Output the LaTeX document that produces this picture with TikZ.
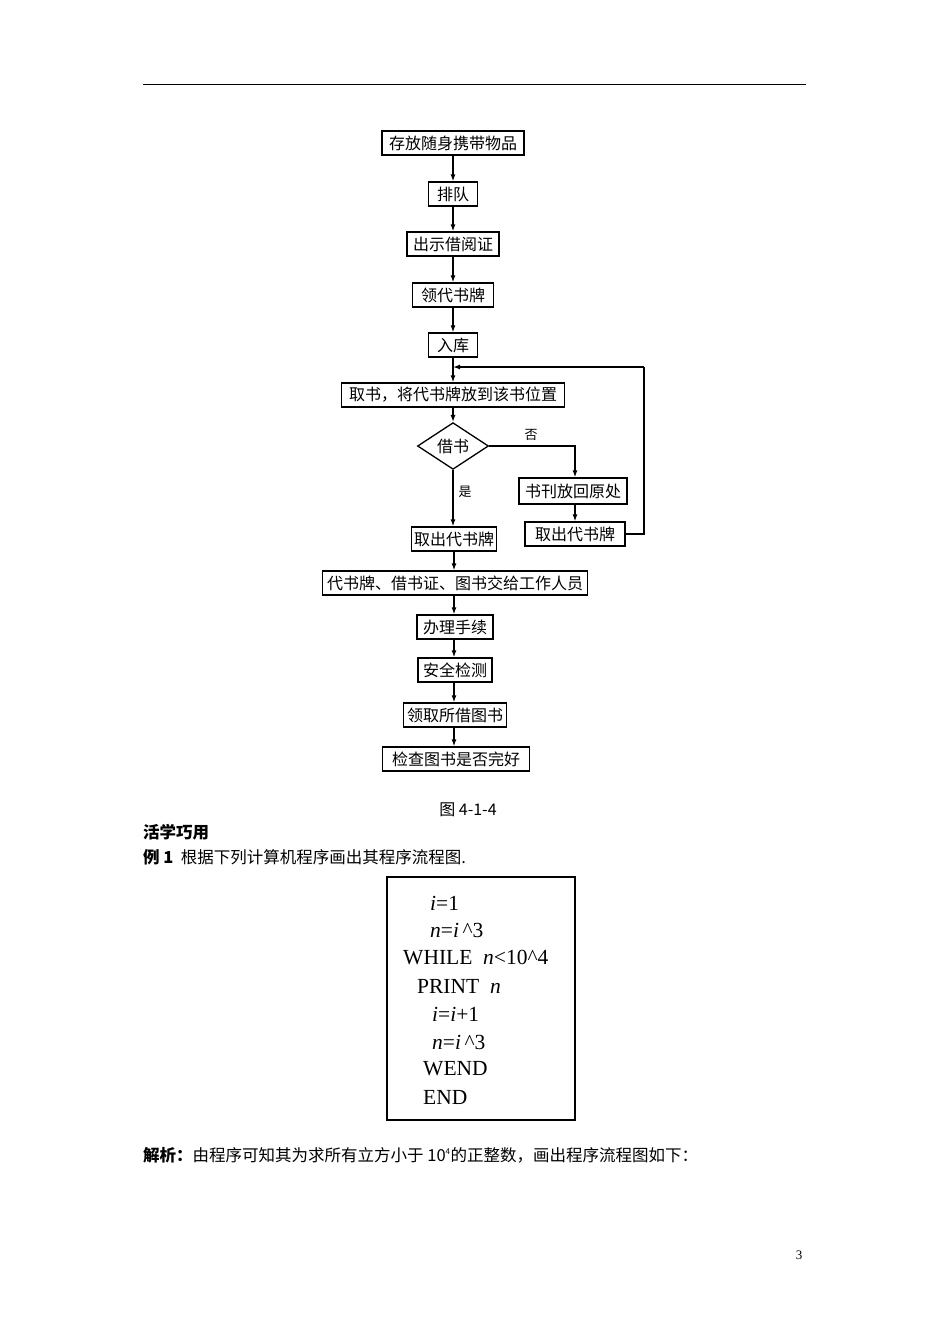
\documentclass[tikz,border=0pt]{standalone}
\usepackage{fontspec}
\setmainfont{Liberation Serif}
\newfontfamily\cjk{Noto Sans CJK SC}
\usetikzlibrary{shapes.geometric,arrows.meta}
\begin{document}
\begin{tikzpicture}[x=1pt,y=-1pt,
  box/.style={draw,line width=1.3pt,minimum height=24pt,inner sep=0pt,font=\cjk\fontsize{16}{16}\selectfont},
  dec/.style={draw,diamond,line width=1.3pt,minimum width=71pt,minimum height=42pt,inner sep=0pt,font=\cjk\fontsize{16}{16}\selectfont},
  arr/.style={line width=1.3pt,-{Latex[length=7pt,width=5pt]}},
  ln/.style={line width=1.3pt},
  lbl/.style={font=\cjk\fontsize{13}{13}\selectfont,inner sep=0pt},
  body/.style={font=\cjk\fontsize{16.5}{16.5}\selectfont,inner sep=0pt,anchor=west},
  code/.style={font=\fontsize{21.5}{21.5}\selectfont,inner sep=0pt,anchor=west}]
\useasboundingbox (0,0) rectangle (950,1344);
% header rule
\coordinate (hl) at (143,84);
\coordinate (hr) at (806,84);
\draw[line width=1pt] (hl) -- (hr);
% flowchart
\node[box,minimum width=142pt] (b1) at (453,143) {存放随身携带物品};
\node[box,minimum width=49pt] (b2) at (453,194) {排队};
\node[box,minimum width=92pt] (b3) at (453,244) {出示借阅证};
\node[box,minimum width=81pt] (b4) at (453,295) {领代书牌};
\node[box,minimum width=49pt] (b5) at (453,345) {入库};
\node[box,minimum width=223pt] (b6) at (453,395) {取书，将代书牌放到该书位置};
\node[dec] (d) at (453,446) {借书};
\node[box,minimum width=108pt,minimum height=26pt] (r1) at (573,491) {书刊放回原处};
\node[box,minimum width=100pt] (r2) at (575,534) {取出代书牌};
\node[box,minimum width=85pt] (b7) at (454,539) {取出代书牌};
\node[box,minimum width=265pt] (b8) at (455,583) {代书牌、借书证、图书交给工作人员};
\node[box,minimum width=76pt] (b9) at (455,627) {办理手续};
\node[box,minimum width=74pt] (b10) at (455,670) {安全检测};
\node[box,minimum width=103pt] (b11) at (455,715) {领取所借图书};
\node[box,minimum width=147pt] (b12) at (456,759) {检查图书是否完好};
\draw[arr] (b1) -- (b2);
\draw[arr] (b2) -- (b3);
\draw[arr] (b3) -- (b4);
\draw[arr] (b4) -- (b5);
\draw[arr] (b5) -- (b6);
\draw[arr] (b6) -- (d);
\draw[arr] (d.south) -- (d.south |- b7.north);
\draw[arr] (d.east) -| (r1.north -| 575,0);
\draw[arr] (r1.south -| r2) -- (r2.north);
\coordinate (lp) at (644,367);
\coordinate (lj) at (453,367);
\draw[ln] (r2.east) -| (lp);
\draw[arr] (lp) -- (lj);
\draw[arr] (b7.south -| 454,0) -- (b8.north -| 454,0);
\draw[arr] (b8.south -| 454,0) -- (b9.north -| 454,0);
\draw[arr] (b9.south -| 454,0) -- (b10.north -| 454,0);
\draw[arr] (b10.south -| 454,0) -- (b11.north -| 454,0);
\draw[arr] (b11.south -| 454,0) -- (b12.north -| 454,0);
\node[lbl] (no) at (531,435) {否};
\node[lbl] (yes) at (465,492) {是};
% caption and text
\node[font=\cjk\fontsize{16}{16}\selectfont,inner sep=0pt] (cap) at (468,810) {图 4-1-4};
\node[body] (t1) at (143,832) {\bfseries 活学巧用};
\node[body] (t2) at (143,857) {{\bfseries 例 1}\ \ 根据下列计算机程序画出其程序流程图.};
% code box
\node[draw,line width=1.5pt,minimum width=188pt,minimum height=243pt,inner sep=0pt] (cb) at (481,998.5) {};
\node[code] (c1) at (430,903) {\textit{i}=1};
\node[code] (c2) at (430,930) {\textit{n}=\textit{i}\,\^{}3};
\node[code] (c3) at (403,958) {WHILE\ \ \textit{n}<10\^{}4};
\node[code] (c4) at (417,986) {PRINT\ \ \textit{n}};
\node[code] (c5) at (432,1014) {\textit{i}=\textit{i}+1};
\node[code] (c6) at (432,1042) {\textit{n}=\textit{i}\,\^{}3};
\node[code] (c7) at (423,1069) {WEND};
\node[code] (c8) at (423,1097) {END};
% analysis
\node[body] (t3) at (143,1155) {{\bfseries 解析：}由程序可知其为求所有立方小于 10\textsuperscript{\fontsize{8}{8}\selectfont 4}的正整数，画出程序流程图如下：};
\node[font=\fontsize{13}{13}\selectfont,inner sep=0pt] (pg) at (799,1255) {3};
\end{tikzpicture}
\end{document}
